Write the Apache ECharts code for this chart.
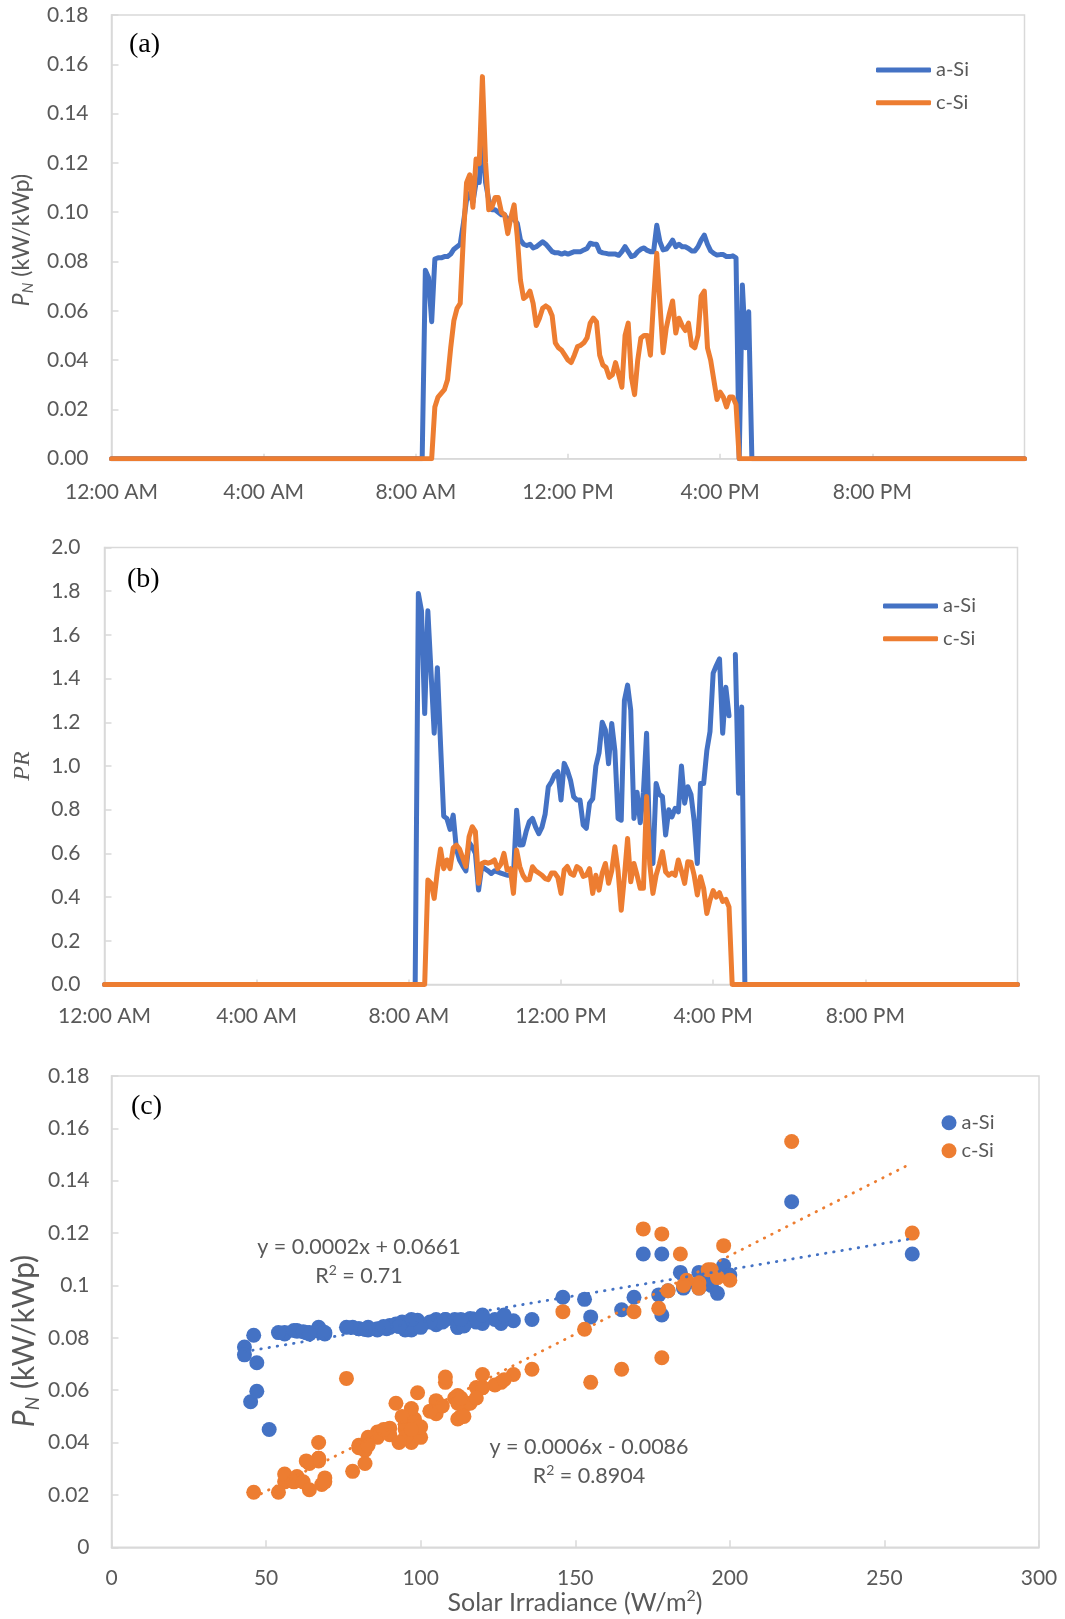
<!DOCTYPE html>
<html>
<head>
<meta charset="utf-8">
<title>a-Si vs c-Si normalised power and performance ratio</title>
<script src="https://cdn.jsdelivr.net/npm/echarts/dist/echarts.min.js"></script>
<style>
  html, body { margin: 0; padding: 0; background: #ffffff; }
  #chart { width: 1065px; height: 1619px; }
</style>
</head>
<body>
<div id="chart"></div>
<script>
// ---- measured data: 5-minute records over the daylight period ----
const clock = [
  '8:00','8:05','8:10','8:15','8:20','8:25','8:30','8:35','8:40','8:45','8:50','8:55',
  '9:00','9:05','9:10','9:15','9:20','9:25','9:30','9:35','9:40','9:45','9:50','9:55',
  '10:00','10:05','10:10','10:15','10:20','10:25','10:30','10:35','10:40','10:45','10:50','10:55',
  '11:00','11:05','11:10','11:15','11:20','11:25','11:30','11:35','11:40','11:45','11:50','11:55',
  '12:00','12:05','12:10','12:15','12:20','12:25','12:30','12:35','12:40','12:45','12:50','12:55',
  '13:00','13:05','13:10','13:15','13:20','13:25','13:30','13:35','13:40','13:45','13:50','13:55',
  '14:00','14:05','14:10','14:15','14:20','14:25','14:30','14:35','14:40','14:45','14:50','14:55',
  '15:00','15:05','15:10','15:15','15:20','15:25','15:30','15:35','15:40','15:45','15:50','15:55',
  '16:00','16:05','16:10','16:15','16:20','16:25','16:30','16:35','16:40','16:45','16:50','16:55'
];

// plane-of-array solar irradiance, W/m2 (null = no reading)
const irradiance = [
  null, null, null, 43, 43, 45, 46, 56, 69, 56, 64, 95,
  105, 118, 108, 146, 184, 198, 200, 172, 178, 220, 259, 190,
  186, 193, 194, 185, 190, 177, 180, 196, 169, 178, 108, 130,
  136, 126, 114, 111, 120, 124, 120, 112, 95, 89, 86, 86,
  97, 80, 83, 90, 96, 95, 98, 116, 118, 105, 100, 80,
  82, 67, 67, 83, 67, 78, 113, 112, 63, 60, 67, 112,
  97, 114, 95, 76, 153, 155, 90, 97, 99, 127, 105, 113,
  107, 103, 92, 100, 88, 94, 120, 165, 97, 93, 82, 68,
  60, 59, 54, 69, 62, 64, null, 47, 51, 47, null, null
];

// normalised power P_N, kW/kWp
const pnASi = [
  0, 0, 0, 0.0765, 0.0735, 0.0556, 0.081, 0.0815, 0.0815, 0.082, 0.082, 0.083,
  0.085, 0.086, 0.087, 0.0955, 0.105, 0.1076, 0.104, 0.112, 0.112, 0.132, 0.112, 0.105,
  0.101, 0.101, 0.100, 0.099, 0.099, 0.0964, 0.098, 0.097, 0.0955, 0.0887, 0.087, 0.0865,
  0.087, 0.0855, 0.086, 0.087, 0.088, 0.087, 0.0855, 0.084, 0.0835, 0.0835, 0.083, 0.0835,
  0.083, 0.0835, 0.084, 0.084, 0.084, 0.0847, 0.0853, 0.0874, 0.087, 0.087, 0.084, 0.0835,
  0.0833, 0.083, 0.083, 0.083, 0.0825, 0.084, 0.086, 0.084, 0.082, 0.0825, 0.084, 0.085,
  0.0855, 0.0845, 0.084, 0.084, 0.0947, 0.088, 0.0847, 0.085, 0.0867, 0.0887, 0.086, 0.087,
  0.086, 0.086, 0.0853, 0.0843, 0.0843, 0.086, 0.0887, 0.0907, 0.087, 0.0843, 0.0833, 0.0826,
  0.0828, 0.0828, 0.082, 0.082, 0.0823, 0.0815, 0, 0.0705, 0.045, 0.0596, 0, 0
];
const pnCSi = [
  0, 0, 0, 0, 0, 0, 0.021, 0.025, 0.0265, 0.028, 0.032, 0.045,
  0.056, 0.061, 0.063, 0.090, 0.112, 0.1152, 0.102, 0.1216, 0.1197, 0.155, 0.120, 0.101,
  0.102, 0.106, 0.106, 0.100, 0.099, 0.0913, 0.098, 0.103, 0.090, 0.0724, 0.065, 0.066,
  0.068, 0.063, 0.054, 0.057, 0.061, 0.062, 0.061, 0.058, 0.047, 0.045, 0.044, 0.042,
  0.040, 0.039, 0.042, 0.0455, 0.046, 0.047, 0.049, 0.055, 0.057, 0.0555, 0.042, 0.038,
  0.037, 0.033, 0.034, 0.039, 0.034, 0.029, 0.050, 0.055, 0.033, 0.026, 0.040, 0.049,
  0.050, 0.050, 0.042, 0.0645, 0.0833, 0.063, 0.043, 0.053, 0.059, 0.064, 0.051, 0.057,
  0.054, 0.052, 0.055, 0.046, 0.045, 0.050, 0.066, 0.068, 0.045, 0.040, 0.032, 0.024,
  0.027, 0.025, 0.021, 0.025, 0.025, 0.022, 0, 0, 0, 0, 0, 0
];

// performance ratio PR (null = not available)
const prASi = [
  0, 0, 0, 1.79, 1.71, 1.24, 1.71, 1.43, 1.15, 1.45, 1.10, 0.77,
  0.76, 0.71, 0.775, 0.62, 0.57, 0.543, 0.52, 0.65, 0.63, 0.60, 0.432, 0.539,
  0.53, 0.52, 0.508, 0.52, 0.515, 0.51, 0.505, 0.50, 0.50, 0.50, 0.798, 0.638,
  0.64, 0.70, 0.745, 0.76, 0.72, 0.69, 0.72, 0.78, 0.905, 0.928, 0.96, 0.974,
  0.844, 1.012, 0.98, 0.935, 0.859, 0.844, 0.844, 0.73, 0.715, 0.83, 0.85, 1.0,
  1.06, 1.20, 1.165, 1.01, 1.195, 1.07, 0.76, 0.752, 1.30, 1.37, 1.255, 0.76,
  0.88, 0.74, 0.88, 1.15, 0.62, 0.554, 0.92, 0.87, 0.86, 0.684, 0.80, 0.767,
  0.806, 0.79, 1.0, 0.83, 0.905, 0.87, 0.75, 0.554, 0.92, 0.92, 1.07, 1.157,
  1.425, 1.46, 1.49, 1.15, 1.36, 1.23, null, 1.51, 0.875, 1.27, 0, 0
];
const prCSi = [
  0, 0, 0, 0, 0, 0, 0.478, 0.463, 0.394, 0.52, 0.62, 0.53,
  0.57, 0.53, 0.625, 0.638, 0.62, 0.58, 0.54, 0.676, 0.722, 0.70, 0.463, 0.554,
  0.56, 0.555, 0.56, 0.57, 0.53, 0.55, 0.60, 0.524, 0.53, 0.417, 0.615, 0.54,
  0.50, 0.478, 0.48, 0.539, 0.52, 0.51, 0.50, 0.485, 0.48, 0.51, 0.51, 0.49,
  0.417, 0.524, 0.54, 0.508, 0.50, 0.54, 0.53, 0.495, 0.50, 0.53, 0.417, 0.50,
  0.432, 0.51, 0.554, 0.463, 0.52, 0.63, 0.52, 0.34, 0.493, 0.668, 0.47, 0.554,
  0.50, 0.44, 0.44, 0.86, 0.55, 0.417, 0.50, 0.55, 0.608, 0.516, 0.50, 0.51,
  0.50, 0.57, 0.52, 0.463, 0.562, 0.56, 0.50, 0.41, 0.493, 0.44, 0.325, 0.386,
  0.43, 0.40, 0.42, 0.38, 0.39, 0.355, 0, 0, 0, 0, 0, 0
];

// night-time level and the day's bounds on the clock axis
const nightLevel = 0;
const dayBounds = ['0:00', '24:00'];
const hourTickLabels = ['12:00 AM', '4:00 AM', '8:00 AM', '12:00 PM', '4:00 PM', '8:00 PM'];

// linear trend lines fitted to P_N against irradiance
const fitASi = { slope: 0.0002, intercept: 0.0661, r2: '0.71' };
const fitCSi = { slope: 0.0006, intercept: -0.0086, r2: '0.8904' };

// ---- styling ----
const BLUE = '#4472C4';
const ORANGE = '#ED7D31';
const AXIS = '#D9D9D9';
const TEXT = '#595959';
const FONT = 'Lato, "Open Sans", sans-serif';
const SERIF = '"Liberation Serif", "DejaVu Serif", serif';

function toHours(s) {
  const p = s.split(':').map(Number);
  return p[0] + p[1] / 60;
}
function daySeries(values) {
  const pts = [[toHours(dayBounds[0]), nightLevel]];
  clock.forEach((c, i) => pts.push([toHours(c), values[i] === null ? '-' : values[i]]));
  pts.push([toHours(dayBounds[1]), nightLevel]);
  return pts;
}
function scatterPoints(values) {
  const pts = [];
  irradiance.forEach((g, i) => {
    if (g !== null && g > 0 && values[i] > 0) pts.push([g, values[i]]);
  });
  return pts;
}
function trendLine(points, fit) {
  const xs = points.map(p => p[0]);
  const x0 = Math.min.apply(null, xs), x1 = Math.max.apply(null, xs);
  return [[x0, fit.slope * x0 + fit.intercept], [x1, fit.slope * x1 + fit.intercept]];
}

const scatterA = scatterPoints(pnASi);
const scatterC = scatterPoints(pnCSi);

const tickLabel = { color: TEXT, fontSize: 21, fontFamily: FONT };

function timeAxis(gridIndex, margin) {
  return {
    type: 'value', gridIndex: gridIndex, min: 0, max: 24, interval: 4,
    axisLine: { show: true, lineStyle: { color: AXIS, width: 1.5 } },
    axisTick: { show: true, inside: true, length: 5, lineStyle: { color: AXIS, width: 1.5 } },
    axisLabel: Object.assign({
      margin: margin, showMaxLabel: false,
      formatter: v => (v < 24 ? hourTickLabels[Math.round(v / 4)] : '')
    }, tickLabel),
    splitLine: { show: false }
  };
}
function valueAxis(gridIndex, max, interval, fmt, margin) {
  return {
    type: 'value', gridIndex: gridIndex, min: 0, max: max, interval: interval,
    axisLine: { show: true, lineStyle: { color: AXIS, width: 1.5 } },
    axisTick: { show: true, inside: true, length: 7, lineStyle: { color: AXIS, width: 1.5 } },
    axisLabel: Object.assign({ margin: margin, formatter: fmt }, tickLabel),
    splitLine: { show: false }
  };
}

const lineSeriesStyle = (color) => ({
  type: 'line', showSymbol: false, symbol: 'none', smooth: false,
  lineStyle: { color: color, width: 5, cap: 'round', join: 'round' },
  itemStyle: { color: color }, silent: true
});

const legendText = { color: TEXT, fontSize: 20, fontFamily: FONT, lineHeight: 24 };

const option = {
  animation: false,
  backgroundColor: '#ffffff',
  grid: [
    { left: 111.5, top: 15, width: 913, height: 443.7, show: true, borderColor: AXIS, borderWidth: 1.5 },
    { left: 104.5, top: 547.5, width: 913, height: 437, show: true, borderColor: AXIS, borderWidth: 1.5 },
    { left: 111.5, top: 1076, width: 927.5, height: 471.3, show: true, borderColor: AXIS, borderWidth: 1.5 }
  ],
  xAxis: [
    timeAxis(0, 23),
    timeAxis(1, 21),
    {
      type: 'value', gridIndex: 2, min: 0, max: 300, interval: 50,
      axisLine: { show: true, lineStyle: { color: AXIS, width: 1.5 } },
      axisTick: { show: true, inside: true, length: 7, lineStyle: { color: AXIS, width: 1.5 } },
      axisLabel: Object.assign({ margin: 20, formatter: v => String(v) }, tickLabel),
      splitLine: { show: false }
    }
  ],
  yAxis: [
    valueAxis(0, 0.18, 0.02, v => v.toFixed(2), 23),
    valueAxis(1, 2.0, 0.2, v => v.toFixed(1), 24),
    valueAxis(2, 0.18, 0.02, v => String(Number(v.toFixed(2))), 22)
  ],
  legend: [
    {
      data: ['a-Si', 'c-Si'], orient: 'vertical', left: 871, top: 53, padding: 5,
      icon: 'roundRect', itemWidth: 55, itemHeight: 5, itemGap: 8.7,
      textStyle: legendText, selectedMode: false
    },
    {
      data: ['a-Si', 'c-Si'], orient: 'vertical', left: 878, top: 589, padding: 5,
      icon: 'roundRect', itemWidth: 55, itemHeight: 5, itemGap: 8.7,
      textStyle: legendText, selectedMode: false
    },
    {
      data: [{ name: 'a-Si', icon: 'circle' }, { name: 'c-Si', icon: 'circle' }],
      orient: 'vertical', left: 936.5, top: 1105.7, padding: 5,
      itemWidth: 15, itemHeight: 15, itemGap: 4,
      textStyle: legendText, selectedMode: false
    }
  ],
  series: [
    Object.assign({ name: 'a-Si', xAxisIndex: 0, yAxisIndex: 0, data: daySeries(pnASi), z: 2 }, lineSeriesStyle(BLUE)),
    Object.assign({ name: 'c-Si', xAxisIndex: 0, yAxisIndex: 0, data: daySeries(pnCSi), z: 3 }, lineSeriesStyle(ORANGE)),
    Object.assign({ name: 'a-Si', xAxisIndex: 1, yAxisIndex: 1, data: daySeries(prASi), z: 2, connectNulls: false }, lineSeriesStyle(BLUE)),
    Object.assign({ name: 'c-Si', xAxisIndex: 1, yAxisIndex: 1, data: daySeries(prCSi), z: 3, connectNulls: false }, lineSeriesStyle(ORANGE)),
    {
      name: 'a-Si', type: 'scatter', xAxisIndex: 2, yAxisIndex: 2, data: scatterA,
      symbol: 'circle', symbolSize: 15, itemStyle: { color: BLUE, opacity: 1 }, z: 2, silent: true
    },
    {
      name: 'c-Si', type: 'scatter', xAxisIndex: 2, yAxisIndex: 2, data: scatterC,
      symbol: 'circle', symbolSize: 15, itemStyle: { color: ORANGE, opacity: 1 }, z: 3, silent: true
    },
    {
      name: 'a-Si trend', type: 'line', xAxisIndex: 2, yAxisIndex: 2, data: trendLine(scatterA, fitASi),
      showSymbol: false, symbol: 'none', silent: true, z: 4,
      lineStyle: { color: BLUE, width: 2.8, type: [0.5, 7.8], cap: 'round' }
    },
    {
      name: 'c-Si trend', type: 'line', xAxisIndex: 2, yAxisIndex: 2, data: trendLine(scatterC, fitCSi),
      showSymbol: false, symbol: 'none', silent: true, z: 4,
      lineStyle: { color: ORANGE, width: 2.8, type: [0.5, 7.8], cap: 'round' }
    }
  ],
  graphic: [
    // panel letters
    { type: 'text', left: 129, top: 31, style: { text: '(a)', font: '28px ' + SERIF, fill: '#000000' } },
    { type: 'text', left: 127, top: 566, style: { text: '(b)', font: '28px ' + SERIF, fill: '#000000' } },
    { type: 'text', left: 131, top: 1093, style: { text: '(c)', font: '28px ' + SERIF, fill: '#000000' } },
    // y-axis titles
    {
      type: 'text', x: 22, y: 240, rotation: Math.PI / 2,
      style: {
        text: '{p|P}{n|N}{t| (kW/kWp)}', align: 'center', verticalAlign: 'middle',
        rich: {
          p: { fontStyle: 'italic', fontSize: 23, fontFamily: FONT, fill: TEXT, lineHeight: 28 },
          n: { fontStyle: 'italic', fontSize: 15, fontFamily: FONT, fill: TEXT, lineHeight: 15, verticalAlign: 'bottom' },
          t: { fontSize: 23, fontFamily: FONT, fill: TEXT, lineHeight: 28 }
        }
      }
    },
    {
      type: 'text', x: 23, y: 766, rotation: Math.PI / 2,
      style: { text: 'PR', align: 'center', verticalAlign: 'middle', font: 'italic 24px ' + SERIF, fill: TEXT }
    },
    {
      type: 'text', x: 24, y: 1341, rotation: Math.PI / 2,
      style: {
        text: '{p|P}{n|N}{t| (kW/kWp)}', align: 'center', verticalAlign: 'middle',
        rich: {
          p: { fontStyle: 'italic', fontSize: 30, fontFamily: FONT, fill: TEXT, lineHeight: 36 },
          n: { fontStyle: 'italic', fontSize: 19, fontFamily: FONT, fill: TEXT, lineHeight: 19, verticalAlign: 'bottom' },
          t: { fontSize: 30, fontFamily: FONT, fill: TEXT, lineHeight: 36 }
        }
      }
    },
    // x-axis title of the scatter panel
    {
      type: 'text', x: 575, y: 1603,
      style: {
        text: '{t|Solar Irradiance (W/m}{s|2}{t|)}', align: 'center', verticalAlign: 'middle',
        rich: {
          t: { fontSize: 25, fontFamily: FONT, fill: TEXT, lineHeight: 30 },
          s: { fontSize: 16, fontFamily: FONT, fill: TEXT, lineHeight: 16, verticalAlign: 'top' }
        }
      }
    },
    // trend-line equations
    {
      type: 'text', x: 359, y: 1247,
      style: {
        text: 'y = ' + fitASi.slope.toFixed(4) + 'x + ' + fitASi.intercept.toFixed(4),
        align: 'center', verticalAlign: 'middle', font: '21.5px ' + FONT, fill: TEXT
      }
    },
    {
      type: 'text', x: 359, y: 1276,
      style: {
        text: '{t|R}{s|2}{t| = ' + fitASi.r2 + '}', align: 'center', verticalAlign: 'middle',
        rich: {
          t: { fontSize: 21.5, fontFamily: FONT, fill: TEXT, lineHeight: 26 },
          s: { fontSize: 14, fontFamily: FONT, fill: TEXT, lineHeight: 14, verticalAlign: 'top' }
        }
      }
    },
    {
      type: 'text', x: 589, y: 1447,
      style: {
        text: 'y = ' + fitCSi.slope.toFixed(4) + 'x - ' + Math.abs(fitCSi.intercept).toFixed(4),
        align: 'center', verticalAlign: 'middle', font: '21.5px ' + FONT, fill: TEXT
      }
    },
    {
      type: 'text', x: 589, y: 1476,
      style: {
        text: '{t|R}{s|2}{t| = ' + fitCSi.r2 + '}', align: 'center', verticalAlign: 'middle',
        rich: {
          t: { fontSize: 21.5, fontFamily: FONT, fill: TEXT, lineHeight: 26 },
          s: { fontSize: 14, fontFamily: FONT, fill: TEXT, lineHeight: 14, verticalAlign: 'top' }
        }
      }
    }
  ]
};

const chart = echarts.init(document.getElementById('chart'), null, { renderer: 'canvas' });
chart.setOption(option);
</script>
</body>
</html>
